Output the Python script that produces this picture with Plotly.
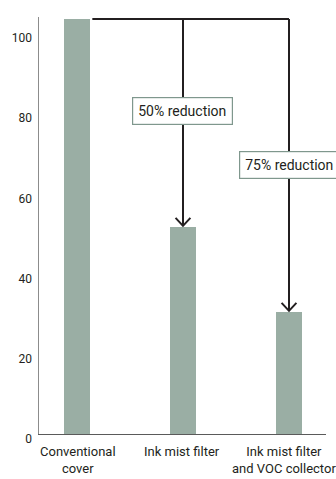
import plotly.graph_objects as go

categories = ["Conventional<br>cover", "Ink mist filter", "Ink mist filter<br>and VOC collector"]
values = [103.5, 51.6, 30.4]
tick_vals = [0, 20, 40, 60, 80, 100]
tick_text = ["0", "20", "40", "60", "80", "100"]
reduction_labels = ["50% reduction", "75% reduction"]
label_heights = [80.5, 67]
category_label_xshift = [1, -1, -5]

FONT = "Roboto, Liberation Sans, sans-serif"
BAR_COLOR = "#9aaea4"
LINE_COLOR = "#231f20"
TEXT_COLOR = "#231f20"
BAR_W = 0.25

xs = list(range(len(categories)))
fig = go.Figure()
fig.add_trace(go.Bar(x=xs, y=values, width=BAR_W, marker=dict(color=BAR_COLOR, line=dict(width=0)),
                     hoverinfo="skip"))

shapes = []
top = values[0]
shapes.append(dict(type="line", xref="x", yref="y", x0=xs[0] + BAR_W / 2 + 0.02, x1=xs[-1], y0=top, y1=top,
                   line=dict(color=LINE_COLOR, width=2)))
chev_dx = 0.07
chev_dy = 2.0
for i in range(1, len(xs)):
    x = xs[i]
    v = values[i]
    shapes.append(dict(type="line", xref="x", yref="y", x0=x, x1=x, y0=top, y1=v + 0.3,
                       line=dict(color=LINE_COLOR, width=2)))
    shapes.append(dict(type="path", xref="x", yref="y",
                       path=f"M {x - chev_dx},{v + chev_dy + 0.3} L {x},{v + 0.3} L {x + chev_dx},{v + chev_dy + 0.3}",
                       line=dict(color=LINE_COLOR, width=2)))

annotations = []
for i, (lab, h) in enumerate(zip(reduction_labels, label_heights)):
    annotations.append(dict(x=xs[i + 1], y=h, xref="x", yref="y", text=lab, showarrow=False,
                            font=dict(family=FONT, size=14, color=TEXT_COLOR),
                            bgcolor="white", bordercolor="#7f978d", borderwidth=1.2, borderpad=5))

# category labels under the axis
for x, lab, dx in zip(xs, categories, category_label_xshift):
    annotations.append(dict(x=x, y=0, xref="x", yref="paper", text=lab, showarrow=False,
                            yanchor="top", xanchor="center", align="center", yshift=-8, xshift=dx,
                            font=dict(family=FONT, size=13, color=TEXT_COLOR)))

fig.update_layout(
    width=336, height=479,
    margin=dict(l=39, r=10, t=17, b=45, autoexpand=False),
    paper_bgcolor="white", plot_bgcolor="white",
    showlegend=False,
    shapes=shapes,
    annotations=annotations,
    bargap=0,
    font=dict(family=FONT, color=TEXT_COLOR),
)
fig.update_xaxes(range=[-0.358, 2.349], tickvals=xs, showticklabels=False, showgrid=False, zeroline=False,
                 showline=True, linecolor="#5a5a5a", linewidth=1, ticks="", automargin=False,
                 fixedrange=True)
fig.update_yaxes(range=[0, 104], tickvals=tick_vals, ticktext=tick_text, showgrid=False, zeroline=False,
                 showline=True, linecolor="#8c8c8c", linewidth=1.5, ticks="", ticklabelshift=5,
                 ticklabelstandoff=3, automargin=False,
                 tickfont=dict(family=FONT, size=12, color=TEXT_COLOR), fixedrange=True)

fig.write_html("out.html", config={"displayModeBar": False, "staticPlot": True},
               post_script="document.body.style.margin='0px';document.body.style.overflow='hidden';")
